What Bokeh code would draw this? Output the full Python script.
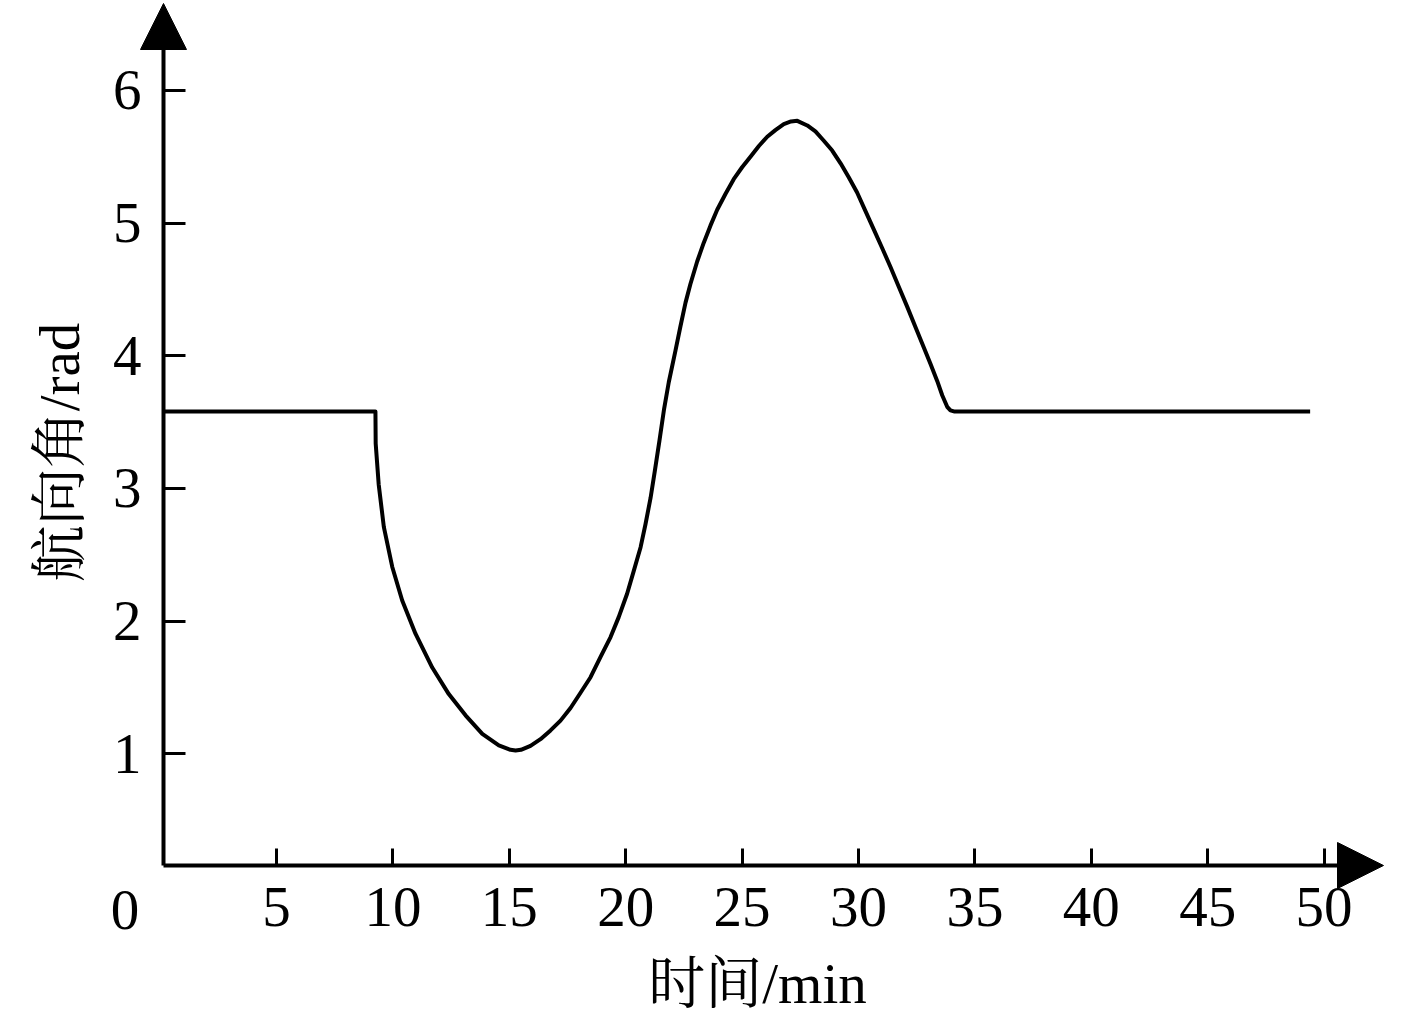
from bokeh.plotting import figure
from bokeh.models import Range1d, FixedTicker, Arrow, NormalHead
from bokeh.core.properties import value
from bokeh.embed import file_html
from bokeh.resources import INLINE

# ---- data ----
time_min = [0.15, 9.25, 9.26, 9.39, 9.61, 9.97, 10.40, 10.97, 11.69, 12.40, 13.12,
            13.84, 14.55, 15.05, 15.27, 15.5, 15.91, 16.34, 16.77, 17.2, 17.63,
            18.06, 18.49, 18.92, 19.35, 19.70, 20.06, 20.35, 20.64, 20.85, 21.07,
            21.25, 21.45, 21.65, 21.85, 22.14, 22.35, 22.57, 22.78, 23.07, 23.35,
            23.64, 23.93, 24.29, 24.64, 25.0, 25.36, 25.72, 26.08, 26.43, 26.79,
            27.1, 27.37, 27.8, 28.15, 28.51, 28.87, 29.23, 29.58, 29.94, 30.30,
            30.66, 31.02, 31.37, 31.73, 32.09, 32.45, 32.81, 33.09, 33.38, 33.6,
            33.81, 33.95, 34.1, 49.4]
heading_rad = [3.58, 3.58, 3.34, 3.03, 2.71, 2.41, 2.155, 1.905, 1.65, 1.45, 1.29,
               1.15, 1.063, 1.03, 1.025, 1.03, 1.06, 1.11, 1.176, 1.25, 1.345,
               1.46, 1.577, 1.73, 1.88, 2.03, 2.206, 2.38, 2.557, 2.73, 2.93,
               3.13, 3.36, 3.60, 3.80, 4.04, 4.22, 4.40, 4.54, 4.71, 4.85,
               4.98, 5.10, 5.22, 5.33, 5.42, 5.50, 5.58, 5.65, 5.70, 5.745,
               5.765, 5.77, 5.735, 5.69, 5.62, 5.546, 5.45, 5.345, 5.23, 5.09,
               4.95, 4.81, 4.67, 4.52, 4.37, 4.215, 4.06, 3.94, 3.81, 3.70,
               3.615, 3.588, 3.58, 3.58]
x_ticks = [5, 10, 15, 20, 25, 30, 35, 40, 45, 50]
y_ticks = [1, 2, 3, 4, 5, 6]
origin_label = ["0"]
x_title = ["时间/min"]
y_title = ["航向角/rad"]

# ---- layout constants (pixel geometry of the drawing) ----
W, H = 1410, 1016
X_PX0, PX_PER_X = 159.6, 23.28      # pixel of t=0, pixels per minute
Y_PX0, PX_PER_Y = 886.0, 132.7      # pixel of 0 rad, pixels per rad


def dx(px):
    return (px - X_PX0) / PX_PER_X


def dy(py):
    return (Y_PX0 - py) / PX_PER_Y


X0, Y0 = dx(163), dy(865)           # where the two axes meet
X_TIP, Y_TIP = dx(1383), dy(3)      # arrow tips
X_BASE, Y_BASE = dx(1337), dy(45)   # arrow bases

LATIN = "Liberation Serif"
MIXED = "Liberation Serif, Noto Serif CJK SC, Noto Sans CJK SC"
TICK_SIZE = "57px"
TITLE_SIZE = "57px"

p = figure(width=W, height=H, output_backend="svg", toolbar_location=None,
           x_range=Range1d(dx(0), dx(W)), y_range=Range1d(dy(H), dy(0)),
           min_border=0)
p.grid.visible = False
p.outline_line_color = None
p.background_fill_color = "white"
p.border_fill_color = "white"

for ax in (p.xaxis, p.yaxis):
    ax.axis_line_width = 4
    ax.axis_line_color = "black"
    ax.major_tick_line_width = 3
    ax.major_tick_line_color = "black"
    ax.major_tick_out = 0
    ax.minor_tick_line_color = None
    ax.major_label_text_font = LATIN
    ax.major_label_text_font_size = TICK_SIZE
    ax.major_label_text_color = "black"

p.xaxis.fixed_location = Y0
p.yaxis.fixed_location = X0
p.xaxis.bounds = (X0, X_BASE)
p.yaxis.bounds = (Y0, Y_BASE)
p.xaxis.ticker = FixedTicker(ticks=x_ticks)
p.yaxis.ticker = FixedTicker(ticks=y_ticks)
p.xaxis.major_tick_in = 17
p.yaxis.major_tick_in = 22
p.xaxis.major_label_standoff = 22
p.yaxis.major_label_standoff = 22

p.line(time_min, heading_rad, line_color="black", line_width=4,
       line_join="round")

# origin label "0"
p.text(x=[0], y=[Y0], text=origin_label, x_offset=-35, y_offset=25,
       text_align="center", text_baseline="top", text_font=value(LATIN),
       text_font_size=value(TICK_SIZE), text_color="black")

# axis titles
p.text(x=[dx(757)], y=[dy(983)], text=x_title, text_align="center",
       text_baseline="middle", text_font=value(MIXED),
       text_font_size=value(TITLE_SIZE), text_color="black")
p.text(x=[dx(59)], y=[dy(452)], text=y_title, angle=1.5707963,
       text_align="center", text_baseline="middle", text_font=value(MIXED),
       text_font_size=value(TITLE_SIZE), text_color="black")

# arrow heads
p.add_layout(Arrow(x_start=X_BASE, y_start=Y0, x_end=X_TIP, y_end=Y0,
                   line_color="black", line_width=1,
                   end=NormalHead(size=46, fill_color="black", line_color="black")))
p.add_layout(Arrow(x_start=X0, y_start=Y_BASE, x_end=X0, y_end=Y_TIP,
                   line_color="black", line_width=1,
                   end=NormalHead(size=46, fill_color="black", line_color="black")))

open("out.html", "w").write(file_html(p, INLINE))
